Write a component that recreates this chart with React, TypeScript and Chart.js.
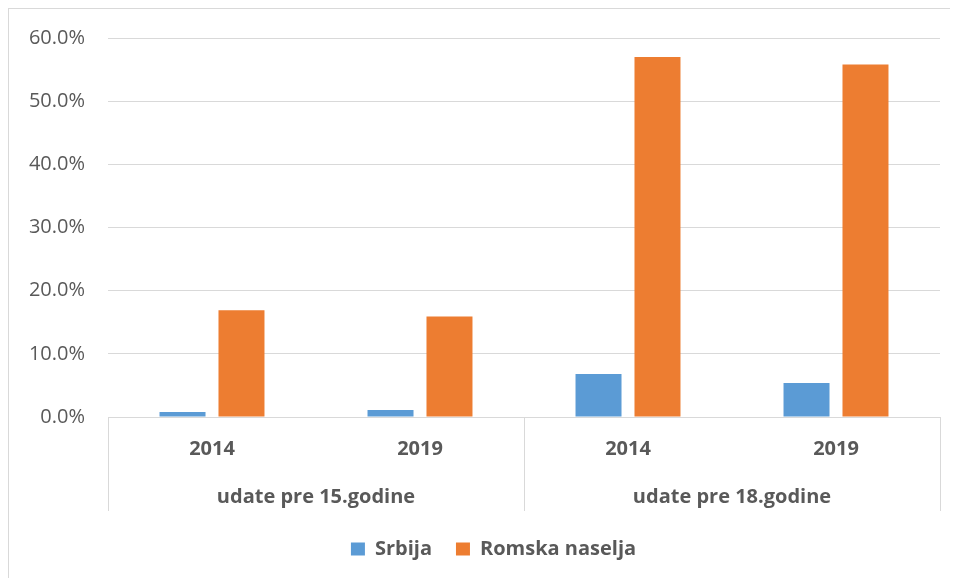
import React, { useEffect, useRef } from "react";
import { Chart, registerables } from "chart.js";

Chart.register(...registerables);

const years = ["2014", "2019", "2014", "2019"];
const groups = ["udate pre 15.godine", "udate pre 18.godine"];
const srbija = [0.8, 1.1, 6.8, 5.4];
const romska = [16.9, 15.9, 57.0, 55.8];
const seriesNames = ["Srbija", "Romska naselja"];
const yTicksMax = 60;
const yStep = 10;

const GRID = "#d9d9d9";
const TEXT = "#595959";
const FONT = "'Open Sans', 'DejaVu Sans', sans-serif";

const separatorPlugin = {
  id: "groupSeparators",
  afterLayout(chart: any) {
    const lg = chart.legend;
    if (lg) {
      lg.left += 19;
      lg.right += 19;
    }
  },
  afterDraw(chart: any) {
    const x = chart.scales.x;
    const x2 = chart.scales.x2;
    if (!x || !x2) return;
    const ctx = chart.ctx;
    const top = chart.chartArea.bottom;
    const bottom = x2.top + 34;
    const n = years.length;
    const per = n / groups.length;
    const xs: number[] = [x.left, x.right];
    for (let g = 1; g < groups.length; g++) {
      const a = x.getPixelForValue(g * per - 1);
      const b = x.getPixelForValue(g * per);
      xs.push((a + b) / 2);
    }
    ctx.save();
    ctx.strokeStyle = GRID;
    ctx.lineWidth = 1;
    xs.forEach((px) => {
      const p = Math.round(px) + 0.5;
      ctx.beginPath();
      ctx.moveTo(p, top);
      ctx.lineTo(p, bottom);
      ctx.stroke();
    });
    ctx.restore();
  },
};

export default function App() {
  const ref = useRef<HTMLCanvasElement | null>(null);

  useEffect(() => {
    if (!ref.current) return;
    const chart = new Chart(ref.current, {
      type: "bar",
      data: {
        labels: years,
        datasets: [
          {
            label: seriesNames[0],
            data: srbija,
            backgroundColor: "#5b9bd5",
            categoryPercentage: 0.567,
            barPercentage: 0.78,
          },
          {
            label: seriesNames[1],
            data: romska,
            backgroundColor: "#ed7d31",
            categoryPercentage: 0.567,
            barPercentage: 0.78,
          },
        ],
      },
      options: {
        animation: false,
        responsive: true,
        maintainAspectRatio: false,
        layout: { padding: { left: 0, right: 18, top: 29, bottom: 9 } },
        plugins: {
          tooltip: { enabled: false },
          legend: {
            position: "bottom",
            labels: {
              boxWidth: 14,
              boxHeight: 13,
              padding: 24,
              color: TEXT,
              font: { family: FONT, size: 20, weight: "bold" },
            },
          },
        },
        scales: {
          y: {
            min: 0,
            max: yTicksMax,
            ticks: {
              stepSize: yStep,
              padding: 23,
              color: TEXT,
              font: { family: FONT, size: 20 },
              callback: (v: any) => Number(v).toFixed(1) + "%",
            },
            grid: { color: GRID, lineWidth: 1, drawTicks: false },
            border: { display: false },
            afterFit: (s: any) => {
              s.width = 99;
              s.paddingTop = 12;
              s.paddingBottom = 12;
            },
          },
          x: {
            weight: 0,
            grid: { display: false },
            border: { display: false },
            ticks: {
              padding: 12,
              color: TEXT,
              maxRotation: 0,
              font: { family: FONT, size: 20, weight: "bold" },
            },
            afterFit: (s: any) => {
              s.height = 60;
            },
          },
          x2: {
            type: "category",
            position: "bottom",
            axis: "x",
            labels: groups,
            offset: true,
            weight: 1,
            grid: { display: false, drawTicks: false },
            border: { display: false },
            ticks: {
              padding: 8,
              color: TEXT,
              maxRotation: 0,
              font: { family: FONT, size: 20, weight: "bold" },
            },
            afterFit: (s: any) => {
              s.height = 38;
            },
          },
        },
      } as any,
      plugins: [separatorPlugin],
    });
    return () => chart.destroy();
  }, []);

  return (
    <div
      style={{
        width: 950,
        height: 570,
        boxSizing: "border-box",
        borderTop: "1px solid #d9d9d9",
        borderLeft: "1px solid #d9d9d9",
      }}
    >
      <div style={{ position: "relative", width: 949, height: 569 }}>
        <canvas ref={ref} />
      </div>
    </div>
  );
}
